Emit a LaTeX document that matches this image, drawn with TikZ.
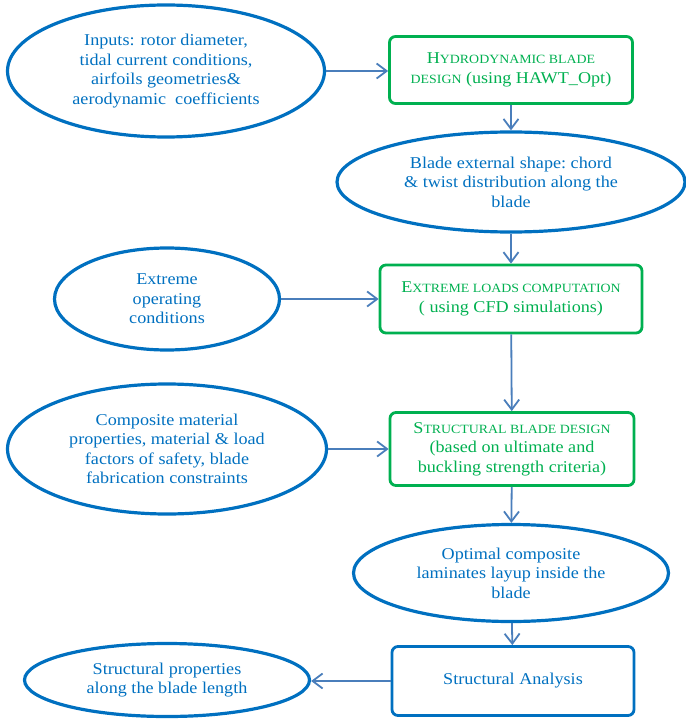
\documentclass[tikz,border=0pt]{standalone}
\usepackage{fontspec}
\setmainfont{Liberation Serif}[FakeStretch=1.1]
\usepackage{tikz}
\usetikzlibrary{shapes.geometric,arrows.meta}
\definecolor{inblue}{HTML}{0070C0}
\definecolor{stepgreen}{HTML}{00B050}
\definecolor{arrowblue}{HTML}{4A7EBB}
\newcommand{\fsc}[1]{{\fontsize{12.6}{19.5}\selectfont #1}}

\begin{document}
\begin{tikzpicture}[x=1pt, y=-1pt,
  inputell/.style={draw=inblue, ellipse, line width=3.2pt, inner sep=0pt, align=center, text=inblue,
    font=\fontsize{16.5}{19.5}\selectfont},
  stepbox/.style={draw=stepgreen, rounded corners=6pt, line width=2.8pt, inner sep=0pt, align=center,
    text=stepgreen, font=\fontsize{16.5}{19.5}\selectfont},
  flow/.style={draw=arrowblue, line width=1.8pt, -{Straight Barb[length=10pt,width=15pt]}}]

\useasboundingbox (0,0) rectangle (685,719);

% nodes
\node[inputell, minimum width=317pt, minimum height=132pt] (inputs) at (166,71)
  {Inputs: rotor diameter,\\ tidal current conditions,\\ airfoils geometries\&\\ aerodynamic\ \ coefficients};
\node[stepbox, minimum width=243pt, minimum height=67pt] (hydro) at (511,70)
  {H\fsc{YDRODYNAMIC BLADE}\\ \fsc{DESIGN} (using HAWT\_Opt)};
\node[inputell, minimum width=348pt, minimum height=100pt] (shape) at (511,182)
  {Blade external shape:\ chord\\ \& twist distribution along the\\ blade};
\node[inputell, minimum width=225pt, minimum height=102pt] (oper) at (167,299)
  {Extreme\\ operating\\ conditions};
\node[stepbox, minimum width=262pt, minimum height=68pt] (loads) at (511,299)
  {E\fsc{XTREME LOADS COMPUTATION}\\ ( using CFD simulations)};
\node[inputell, minimum width=319pt, minimum height=130pt] (comp) at (167,449)
  {Composite material\\ properties, material \& load\\ factors of safety, blade\\ fabrication constraints};
\node[stepbox, minimum width=244pt, minimum height=73pt] (struct) at (512,449)
  {S\fsc{TRUCTURAL BLADE DESIGN}\\ (based on ultimate and\\ buckling strength criteria)};
\node[inputell, minimum width=315pt, minimum height=97pt] (layup) at (511,573)
  {Optimal composite\\ laminates layup inside the\\ blade};
\node[stepbox, draw=inblue, text=inblue, minimum width=242pt, minimum height=69pt] (anal) at (513,681)
  {Structural Analysis};
\node[inputell, minimum width=285pt, minimum height=73pt] (props) at (167,680)
  {Structural properties\\ along the blade length};

% arrows
\draw[flow] (inputs.east) -- (inputs.east -| hydro.west);
\draw[flow] (hydro) -- (shape);
\draw[flow] (shape) -- (loads);
\draw[flow] (oper.east) -- (oper.east -| loads.west);
\draw[flow] (loads) -- (struct);
\draw[flow] (comp.east) -- (comp.east -| struct.west);
\draw[flow] (struct) -- (layup);
\draw[flow] (layup) -- (anal);
\draw[flow] (anal.west) -- (anal.west -| props.east);

\end{tikzpicture}
\end{document}
